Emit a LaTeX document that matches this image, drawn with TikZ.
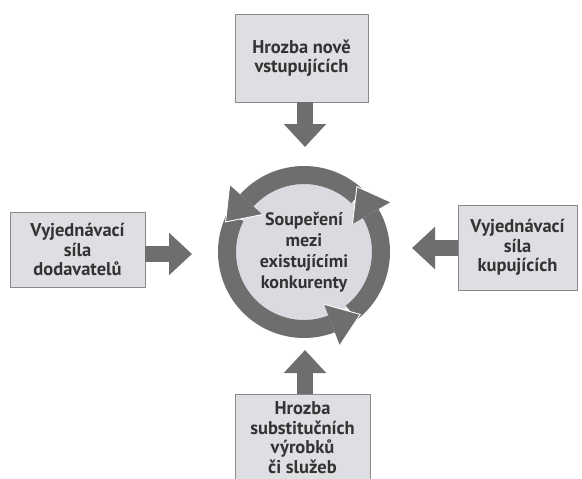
\documentclass[tikz,border=0pt]{standalone}
\usepackage{fontspec}
\setmainfont{PT Sans}
\usetikzlibrary{arrows.meta}
\definecolor{boxfill}{HTML}{DEDFE3}
\definecolor{boxline}{HTML}{8A8A8A}
\definecolor{arrowgray}{HTML}{6E6E6E}
\definecolor{diskfill}{HTML}{DADBE0}
\definecolor{txt}{HTML}{333333}
\begin{document}
\begin{tikzpicture}[x=1pt,y=-1pt,
  force/.style={draw=boxline, line width=0.8pt, fill=boxfill, align=center,
    font=\bfseries\fontsize{18.5}{19.5}\selectfont, text=txt, inner sep=0pt},
  fat/.style={draw=arrowgray, line width=16pt, -{Triangle[width=41pt,length=23pt]}},
  ringband/.style={fill=arrowgray},
  ringhead/.style={fill=arrowgray},
  headedge/.style={draw=white, line width=0.9pt}]
\useasboundingbox (0,0) rectangle (582,479);
\fill[white] (0,0) rectangle (582,479);

% forces
\node[force, minimum width=133pt, minimum height=88pt] (top) at (301.5,58) {Hrozba nově\\vstupujících};
\node[force, minimum width=135pt, minimum height=75pt] (left) at (77.5,249.5) {Vyjednávací\\síla\\dodavatelů};
\node[force, minimum width=119pt, minimum height=85pt] (right) at (517.5,247.5) {Vyjednávací\\síla\\kupujících};
\node[force, minimum width=135pt, minimum height=86pt] (bottom) at (302.5,437.5) {Hrozba\\substitučních\\výrobků\\či služeb};

% hub
\node[circle, fill=diskfill, minimum size=140pt, inner sep=0pt, align=center,
  font=\bfseries\fontsize{18}{21}\selectfont, text=txt] (hub) at (304,252)
  {Soupeření\\mezi\\existujícími\\konkurenty};

% ring of three arrows
\begin{scope}[shift={(hub.center)}, yscale=-1]
  \foreach \a/\b in {46/138, -52/30, 153/291}{
    \fill[ringband] (\a:86) arc[start angle=\a, end angle=\b, radius=86]
      -- (\b:68) arc[start angle=\b, end angle=\a, radius=68] -- cycle;
  }
  \foreach \b in {138, 30, 291}{
    \fill[ringhead] (\b:56) -- (\b:100) -- (\b+21:84) -- cycle;
    \draw[headedge] (\b:100) -- (\b+21:84) -- (\b:56);
  }
\end{scope}

% tips of the force arrows
\coordinate (tN) at (305,147);
\coordinate (tS) at (305,350);
\coordinate (tW) at (192,254);
\coordinate (tE) at (412,248);

\draw[fat] (top.south -| tN) -- (tN);
\draw[fat] (bottom.north -| tS) -- (tS);
\draw[fat] (left.east |- tW) -- (tW);
\draw[fat] (right.west |- tE) -- (tE);
\end{tikzpicture}
\end{document}
